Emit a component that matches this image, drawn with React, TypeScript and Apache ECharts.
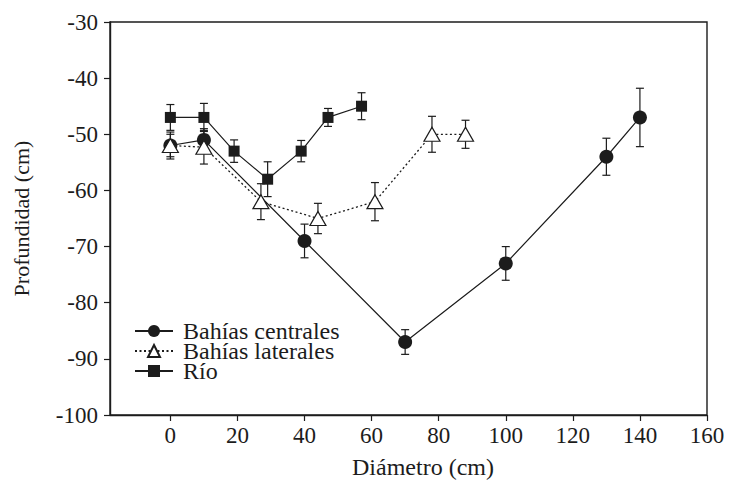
import React, { useEffect, useRef } from "react";
import * as echarts from "echarts";

// Diameter (cm) and mean depth (cm) with ± error for each habitat
const centralesX = [0, 10, 40, 70, 100, 130, 140];
const centralesY = [-52, -51, -69, -87, -73, -54, -47];
const centralesErr = [2, 2, 3, 2.2, 3, 3.3, 5.2];

const lateralesX = [0, 10, 27, 44, 61, 78, 88];
const lateralesY = [-52, -52.3, -62, -65, -62, -50, -50];
const lateralesErr = [2.4, 3, 3.2, 2.7, 3.4, 3.2, 2.5];

const rioX = [0, 10, 19, 29, 39, 47, 57];
const rioY = [-47, -47, -53, -58, -53, -47, -45];
const rioErr = [2.3, 2.5, 2, 3.1, 1.9, 1.6, 2.4];

const xTicks = [0, 20, 40, 60, 80, 100, 120, 140, 160];
const seriesNames = ["Bahías centrales", "Bahías laterales", "Río"];

const FONT = "'Liberation Serif', serif";
const INK = "#1c1c1c";

const pairs = (xs: number[], ys: number[]) => xs.map((x, i) => [x, ys[i]]);
const bars = (xs: number[], ys: number[], es: number[]) =>
  xs.map((x, i) => [x, ys[i] - es[i], ys[i] + es[i]]);

function errorBars(data: number[][], z: number) {
  return {
    type: "custom",
    silent: true,
    z,
    encode: { x: 0, y: [1, 2] },
    data,
    renderItem: (_params: any, api: any) => {
      const x = api.value(0);
      const lo = api.coord([x, api.value(1)]);
      const hi = api.coord([x, api.value(2)]);
      const w = 4;
      const style = { stroke: INK, lineWidth: 1.2 };
      return {
        type: "group",
        children: [
          { type: "line", shape: { x1: lo[0], y1: lo[1], x2: hi[0], y2: hi[1] }, style },
          { type: "line", shape: { x1: lo[0] - w, y1: lo[1], x2: lo[0] + w, y2: lo[1] }, style },
          { type: "line", shape: { x1: hi[0] - w, y1: hi[1], x2: hi[0] + w, y2: hi[1] }, style },
        ],
      };
    },
  };
}

export default function App() {
  const ref = useRef<HTMLDivElement>(null);

  useEffect(() => {
    document.body.style.margin = "0";
    if (!ref.current) return;
    const chart = echarts.init(ref.current, undefined, { renderer: "svg" });
    chart.setOption({
      animation: false,
      backgroundColor: "#ffffff",
      textStyle: { fontFamily: FONT, color: INK },
      grid: {
        left: 110,
        top: 22,
        right: 28,
        bottom: 66,
        show: true,
        borderColor: INK,
        borderWidth: 1.4,
      },
      legend: {
        orient: "vertical",
        left: 134,
        top: 319,
        padding: 0,
        itemGap: -4,
        itemWidth: 38,
        itemHeight: 15,
        data: seriesNames,
        textStyle: {
          fontFamily: FONT,
          fontSize: 24,
          color: INK,
          padding: [0, 0, 0, 5],
        },
      },
      xAxis: {
        type: "value",
        min: -18,
        max: 160,
        name: "Diámetro (cm)",
        nameLocation: "middle",
        nameGap: 40,
        nameTextStyle: { fontFamily: FONT, fontSize: 24, color: INK, padding: [0, 0, 0, 29] },
        splitLine: { show: false },
        axisLine: { onZero: false, lineStyle: { color: INK, width: 1.4 } },
        axisTick: { show: true, length: 6, lineStyle: { color: INK, width: 1.2 }, customValues: xTicks },
        axisLabel: { fontFamily: FONT, fontSize: 23, color: INK, margin: 9, customValues: xTicks },
      },
      yAxis: {
        type: "value",
        min: -100,
        max: -30,
        interval: 10,
        name: "Profundidad (cm)",
        nameLocation: "middle",
        nameRotate: 90,
        nameGap: 78,
        nameTextStyle: { fontFamily: FONT, fontSize: 22, color: INK },
        splitLine: { show: false },
        axisLine: { onZero: false, lineStyle: { color: INK, width: 1.4 } },
        axisTick: { show: true, length: 6, lineStyle: { color: INK, width: 1.2 } },
        axisLabel: { fontFamily: FONT, fontSize: 23, color: INK, margin: 12 },
      },
      series: [
        errorBars(bars(centralesX, centralesY, centralesErr), 2),
        errorBars(bars(rioX, rioY, rioErr), 2),
        errorBars(bars(lateralesX, lateralesY, lateralesErr), 2),
        {
          name: seriesNames[0],
          type: "line",
          data: pairs(centralesX, centralesY),
          symbol: "circle",
          symbolSize: 14,
          z: 3,
          lineStyle: { color: INK, width: 1.2, type: "solid" },
          itemStyle: { color: INK, borderWidth: 0 },
        },
        {
          name: seriesNames[2],
          type: "line",
          data: pairs(rioX, rioY),
          symbol: "rect",
          symbolSize: 11,
          z: 4,
          lineStyle: { color: INK, width: 1.2, type: "solid" },
          itemStyle: { color: INK, borderWidth: 0 },
        },
        {
          name: seriesNames[1],
          type: "line",
          data: pairs(lateralesX, lateralesY),
          symbol: "triangle",
          symbolSize: [16, 14],
          z: 5,
          lineStyle: { color: INK, width: 1.3, type: [2, 2.5] },
          itemStyle: { color: "#ffffff", borderColor: INK, borderWidth: 1.2 },
        },
      ],
    });
    return () => chart.dispose();
  }, []);

  return <div ref={ref} style={{ width: 735, height: 484 }} />;
}
